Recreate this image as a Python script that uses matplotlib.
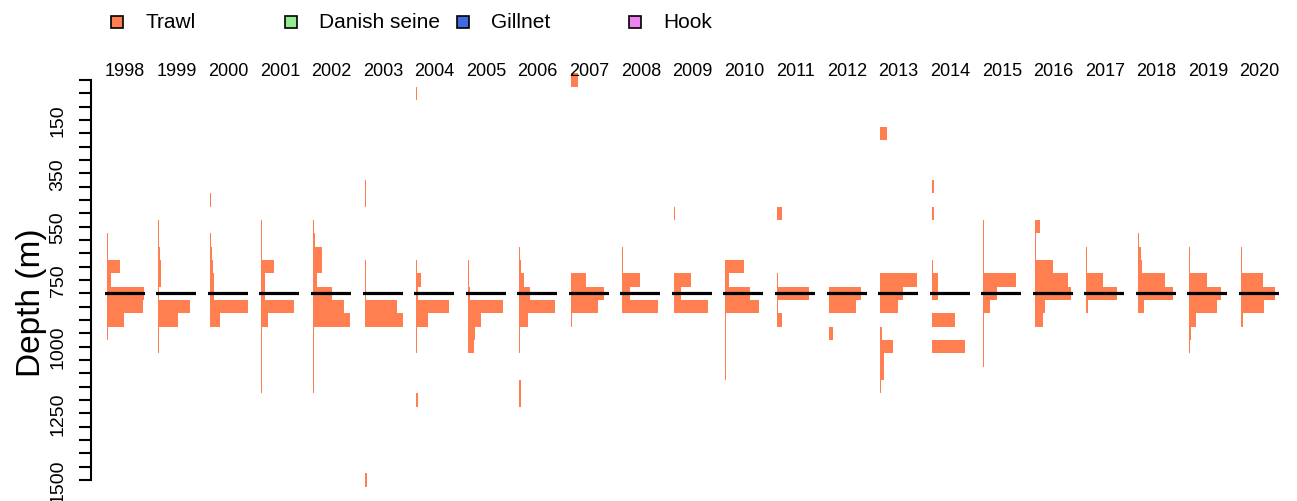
import numpy as np
import matplotlib
matplotlib.use("Agg")
import matplotlib.pyplot as plt
from matplotlib.patches import Rectangle

plt.rcParams['font.family'] = ['Liberation Sans', 'DejaVu Sans']

# ---------------- data ----------------
years = list(range(1998, 2021))
depths = np.arange(0, 1550, 50)          # depth bins (m), 31 bins
line_depth = 800                          # reference depth line
gear_names = ["Trawl", "Danish seine", "Gillnet", "Hook"]
gear_colors = ["coral", "lightgreen", "royalblue", "violet"]
tick_values = list(range(0, 1550, 50))
tick_labels_shown = {150: "150", 350: "350", 550: "550", 750: "750",
                     1000: "1000", 1250: "1250", 1500: "1500"}

def prof(d):
    v = np.zeros(len(depths))
    for k, val in d.items():
        v[k // 50] = val
    return v

# trawl catch index per depth bin (only Trawl has visible catches)
trawl_1998 = prof({550: 0.6, 600: 1, 650: 1.5, 700: 13, 750: 4, 800: 37, 850: 36, 900: 17,
                   950: 0.8, 1000: 0.6, 1050: 0.6, 1100: 0.6, 1150: 0.6, 1200: 0.5})
trawl_1999 = prof({550: 0.6, 600: 1, 650: 2, 700: 3, 750: 2.5, 800: 0.8, 850: 32, 900: 20,
                   950: 1, 1000: 0.5})
trawl_2000 = prof({450: 1.5, 550: 0.6, 600: 1.5, 650: 2.5, 700: 3.5, 750: 4, 800: 4, 850: 38,
                   900: 10, 950: 0.5, 1000: 0.5})
trawl_2001 = prof({550: 0.5, 600: 0.8, 650: 1, 700: 13, 750: 4, 800: 4, 850: 33, 900: 7,
                   950: 0.5, 1000: 0.4, 1050: 0.4, 1100: 0.4, 1150: 1})
trawl_2002 = prof({550: 0.8, 600: 2, 650: 9, 700: 9, 750: 4, 800: 19, 850: 31, 900: 37,
                   950: 0.6, 1000: 1.5, 1050: 1, 1100: 0.6, 1150: 0.6, 1200: 0.5})
trawl_2003 = prof({400: 1, 450: 1.5, 700: 1, 750: 1.5, 800: 1.5, 850: 32, 900: 38,
                   950: 0.8, 1000: 0.6, 1500: 2.5})
trawl_2004 = prof({50: 0.8, 700: 0.8, 750: 5, 800: 2, 850: 33, 900: 12, 950: 0.6,
                   1000: 0.5, 1200: 1.5})
trawl_2005 = prof({600: 0.5, 650: 0.8, 700: 1, 750: 1.5, 800: 2, 850: 35, 900: 13, 950: 7,
                   1000: 6, 1050: 0.6, 1100: 0.5, 1150: 0.5, 1200: 0.5, 1250: 0.5})
trawl_2006 = prof({650: 1, 700: 2, 750: 5, 800: 11, 850: 36, 900: 9, 950: 0.5, 1000: 0.5,
                   1150: 1.5, 1200: 1.5})
trawl_2007 = prof({0: 7, 750: 15, 800: 33, 850: 27, 900: 1.5})
trawl_2008 = prof({650: 0.5, 700: 0.8, 750: 18, 800: 8, 850: 36})
trawl_2009 = prof({500: 1, 550: 0.4, 600: 0.5, 650: 0.5, 700: 0.6, 750: 17, 800: 7, 850: 34,
                   900: 0.6, 950: 0.6, 1000: 0.5})
trawl_2010 = prof({700: 19, 750: 4, 800: 25, 850: 34, 900: 0.6, 950: 0.5, 1000: 0.5,
                   1050: 0.4, 1100: 0.4})
trawl_2011 = prof({500: 5, 650: 0.5, 700: 0.5, 750: 0.6, 800: 32, 850: 1.5, 900: 5})
trawl_2012 = prof({800: 32, 850: 27, 950: 4})
trawl_2013 = prof({200: 7, 750: 37, 800: 23, 850: 18, 950: 1.5, 1000: 13, 1050: 4,
                   1100: 4, 1150: 1})
trawl_2014 = prof({300: 0.5, 350: 0.8, 400: 2, 450: 0.8, 500: 2, 650: 0.8, 700: 1,
                   750: 6, 800: 6, 850: 0.6, 900: 23, 950: 0.6, 1000: 33})
trawl_2015 = prof({550: 0.5, 600: 0.5, 650: 0.5, 700: 0.5, 750: 33, 800: 14, 850: 7,
                   900: 0.4, 950: 0.4, 1000: 0.4, 1050: 0.4})
trawl_2016 = prof({50: 0.5, 550: 5, 600: 1.5, 650: 1, 700: 18, 750: 33, 800: 36, 850: 10,
                   900: 8, 1050: 0.4})
trawl_2017 = prof({650: 0.5, 700: 0.6, 750: 17, 800: 31, 850: 2})
trawl_2018 = prof({600: 1.5, 650: 3, 700: 4, 750: 27, 800: 35, 850: 6})
trawl_2019 = prof({650: 0.4, 700: 0.4, 750: 18, 800: 32, 850: 28, 900: 7, 950: 1.2,
                   1000: 0.5})
trawl_2020 = prof({650: 0.5, 700: 0.5, 750: 22, 800: 34, 850: 23, 900: 1.5})

trawl = [trawl_1998, trawl_1999, trawl_2000, trawl_2001, trawl_2002, trawl_2003,
         trawl_2004, trawl_2005, trawl_2006, trawl_2007, trawl_2008, trawl_2009,
         trawl_2010, trawl_2011, trawl_2012, trawl_2013, trawl_2014, trawl_2015,
         trawl_2016, trawl_2017, trawl_2018, trawl_2019, trawl_2020]

# ---------------- layout ----------------
W, H = 1297, 502
fig = plt.figure(figsize=(W / 100, H / 100), dpi=100)

def fx(px):
    return px / W

def fy(py):
    return 1 - py / H

ytop_px, ybot_px = 63, 498
ylim = (1563.75, -67.5)
ax_bottom = fy(ybot_px)
ax_height = (ybot_px - ytop_px) / H

# main axis (only depth axis)
ax0 = fig.add_axes([fx(91), ax_bottom, fx(1290 - 91), ax_height])
ax0.set_ylim(*ylim)
ax0.set_xlim(0, 1)
for s in ["top", "right", "bottom"]:
    ax0.spines[s].set_visible(False)
ax0.spines["left"].set_bounds(0, 1500)
ax0.spines["left"].set_linewidth(1.5)
ax0.set_xticks([])
ax0.set_yticks(tick_values)
ax0.set_yticklabels([tick_labels_shown.get(v, "") for v in tick_values],
                    rotation=90, va="center", fontsize=14)
ax0.tick_params(axis="y", length=8.5, width=1.5, pad=9)
ax0.patch.set_alpha(0)

fig.text(fx(32), fy(303), "Depth (m)", rotation=90, ha="center", va="center",
         fontsize=24)

# per-year histograms
slot = 51.56
for i, (yr, vals) in enumerate(zip(years, trawl)):
    left_px = 104.7 + slot * i
    ax = fig.add_axes([fx(left_px), ax_bottom, fx(40), ax_height])
    ax.set_ylim(*ylim)
    ax.set_xlim(-2, 38)
    ax.barh(depths, vals, height=50, left=0, color=gear_colors[0], linewidth=0)
    ax.axhline(line_depth, color="black", lw=2.3, xmin=0, xmax=1)
    ax.axis("off")
    fig.text(fx(left_px + 20.5), fy(71), str(yr), ha="center", va="center", fontsize=13)

# legend
leg_x = [117, 291, 463, 635]
for name, col, x in zip(gear_names, gear_colors, leg_x):
    fig.patches.append(Rectangle((fx(x - 6), fy(29)), fx(12), 12 / H, facecolor=col,
                                 edgecolor="black", linewidth=1.2,
                                 transform=fig.transFigure, figure=fig))
    fig.text(fx(x + 28), fy(23), name, ha="left", va="center", fontsize=15)

fig.savefig("out.png", dpi=100)
